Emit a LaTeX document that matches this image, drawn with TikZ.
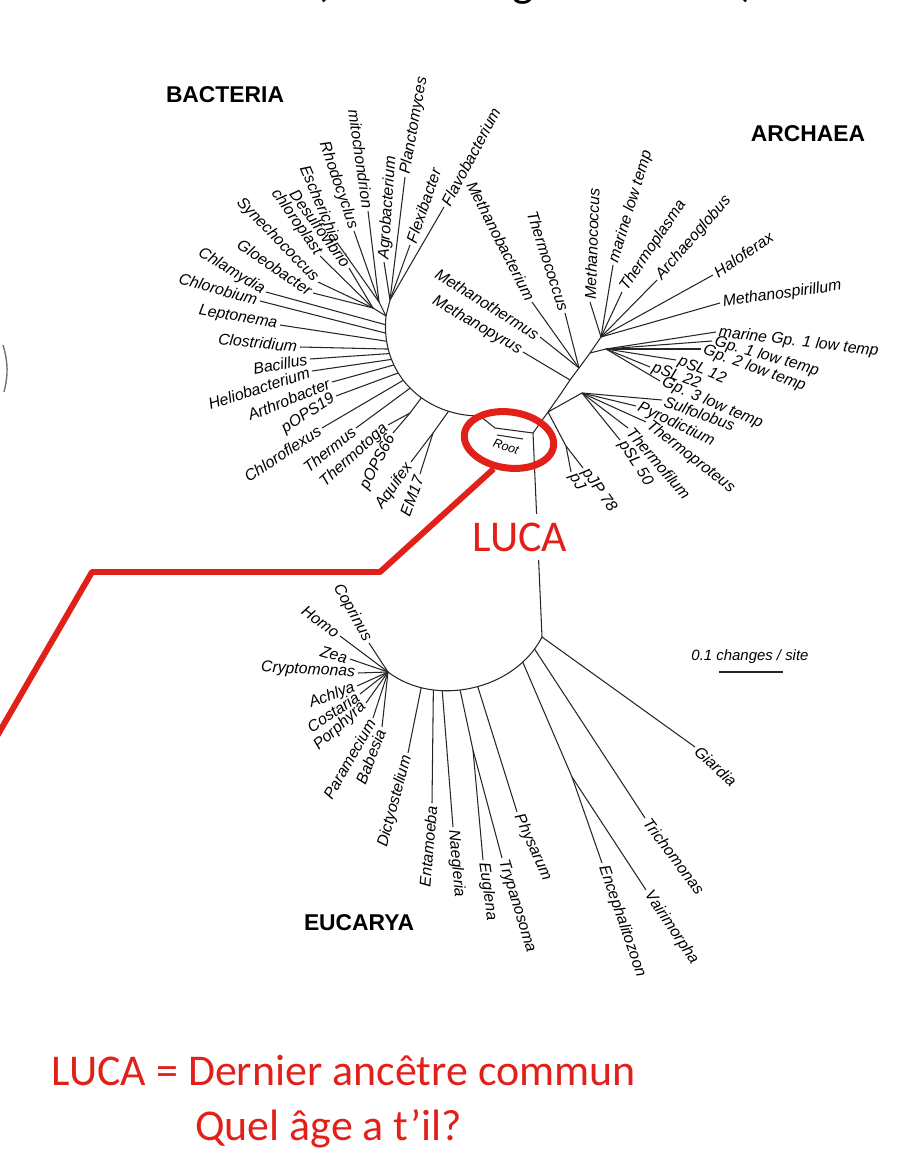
\documentclass[tikz,border=0pt]{standalone}
\usepackage{fontspec}
\setmainfont{Liberation Sans}
\newfontfamily\slidefont{Carlito}
\usetikzlibrary{shapes.geometric}
\definecolor{lucared}{RGB}{226,32,26}
\tikzset{
	br/.style={line width=0.6pt, black!85},
	taxon/.style={font=\fontsize{9}{10}\selectfont\itshape, inner sep=1.5pt},
	outR/.style={taxon, anchor=west, rotate=#1},
	outL/.style={taxon, anchor=east, rotate=#1},
	kingdom/.style={font=\fontsize{13}{15}\selectfont\bfseries},
	redtext/.style={font=\slidefont\fontsize{25}{29}\selectfont, text=lucared},
	redline/.style={draw=lucared, line width=3.4pt, line join=round},
	cuttitle/.style={font=\slidefont\fontsize{26}{30}\selectfont, anchor=base, inner sep=0pt}
}
\begin{document}
\begin{tikzpicture}[x=0.02cm, y=-0.02cm]
	\useasboundingbox (0,0) rectangle (898,1169);
	\clip (0,0) rectangle (898,1169);

	% cut title and left mark
	\node[cuttitle] (ttl1) at (321,-3) {(};
	\node[cuttitle] (ttl2) at (523,-3) {g};
	\node[cuttitle] (ttl3) at (748,-3) {)};
	\coordinate (lm1) at (3,345);
	\coordinate (lm2) at (4,392);
	\draw[black!55, line width=0.8pt] (lm1) to[bend left=15] (lm2);

	% kingdom names
	\node[kingdom] (bact) at (225,95) {BACTERIA};
	\node[kingdom] (arch) at (808,134) {ARCHAEA};
	\node[kingdom] (euca) at (359,923) {EUCARYA};

	% root
	\coordinate (R) at (533,433);
	\coordinate (rb1) at (495,428);
	\coordinate (rb2) at (497,435);
	\coordinate (rb3) at (523,439);
	\node[taxon, font=\fontsize{7}{8}\selectfont\itshape, rotate=-18] (rootlbl) at (506,447) {Root};

	% Bacteria
	\coordinate (bT) at (386,316);
	\coordinate (bH) at (480,416);
	\coordinate (bP) at (390,300);
	\coordinate (bM) at (379,302);
	\coordinate (bS) at (373,308);
	\draw[br] (bT) .. controls (380,375) and (425,416) .. (bH)
		coordinate[pos=0.05] (a05) coordinate[pos=0.10] (a10)
		coordinate[pos=0.15] (a15) coordinate[pos=0.20] (a20)
		coordinate[pos=0.23] (a23) coordinate[pos=0.27] (a27)
		coordinate[pos=0.31] (a31) coordinate[pos=0.37] (a37)
		coordinate[pos=0.43] (a43) coordinate[pos=0.50] (a50)
		coordinate[pos=0.60] (a60) coordinate[pos=0.80] (a80);
	\draw[br] (bH) -- (rb1) -- (R);
	\draw[br] (rb2) -- (rb3);
	\draw[br] (bT) -- (bP);
	\draw[br] (bT) -- (bM);
	\draw[br] (bT) -- (bS);
	\coordinate (bTt) at (410,413);
	\coordinate (bAq) at (433,433);
	\draw[br] (a60) -- (bTt);
	\draw[br] (a80) -- (bAq);

	\node[outR=62] (flavo) at (444,207) {Flavobacterium};
	\node[outR=71] (flexi) at (410,245) {Flexibacter};
	\node[outR=80] (planc) at (405,177) {Planctomyces};
	\node[outR=86] (agro) at (384,262) {Agrobacterium};
	\node[outL=-82] (mito) at (368,211) {mitochondrion};
	\node[outL=-71] (rhodo) at (354,231) {Rhodocyclus};
	\node[outL=-67] (esch) at (338,244) {Escherichia};
	\node[outL=-54] (desulf) at (349,268) {Desulfovibrio};
	\node[outL=-55] (chlpl) at (320,256) {chloroplast};
	\node[outL=-46] (synech) at (318,282) {Synechococcus};
	\node[outL=-34] (gloeo) at (313,293) {Gloeobacter};
	\node[outL=-31] (chlam) at (266,292) {Chlamydia};
	\node[outL=-16] (chlor) at (260,301) {Chlorobium};
	\node[outL=-10] (lepto) at (280,325) {Leptonema};
	\node[outL=-6] (clost) at (300,347) {Clostridium};
	\node[outL=10] (bacil) at (310,359) {Bacillus};
	\node[outL=18] (helio) at (312,371) {Heliobacterium};
	\node[outL=22] (arthr) at (332,382) {Arthrobacter};
	\node[outL=33] (pops19) at (336,396) {pOPS19};
	\node[outL=33] (chlfx) at (322,428) {Chloroflexus};
	\node[outL=39] (therm) at (356,428) {Thermus};
	\node[outL=42] (thtog) at (388,425) {Thermotoga};
	\node[outL=63] (pops66) at (393,433) {pOPS66};
	\node[outL=55] (aquif) at (411,462) {Aquifex};
	\node[outL=70] (em17) at (420,474) {EM17};

	\draw[br] (bP) -- (flavo.west);
	\draw[br] (bP) -- (flexi.west);
	\draw[br] (bP) -- (planc.west);
	\draw[br] (bP) -- (agro.west);
	\draw[br] (bM) -- (mito.east);
	\draw[br] (bM) -- (rhodo.east);
	\draw[br] (bM) -- (esch.east);
	\draw[br] (bS) -- (desulf.east);
	\draw[br] (bS) -- (chlpl.east);
	\draw[br] (bS) -- (synech.east);
	\draw[br] (bS) -- (gloeo.east);
	\draw[br] (a05) -- (chlam.east);
	\draw[br] (a10) -- (chlor.east);
	\draw[br] (a15) -- (lepto.east);
	\draw[br] (a20) -- (clost.east);
	\draw[br] (a23) -- (bacil.east);
	\draw[br] (a27) -- (helio.east);
	\draw[br] (a31) -- (arthr.east);
	\draw[br] (a37) -- (pops19.east);
	\draw[br] (a43) -- (chlfx.east);
	\draw[br] (a50) -- (therm.east);
	\draw[br] (bTt) -- (thtog.east);
	\draw[br] (bTt) -- (pops66.east);
	\draw[br] (bAq) -- (aquif.east);
	\draw[br] (bAq) -- (em17.east);

	% Archaea
	\coordinate (n1) at (548,412);
	\coordinate (n2) at (562,392);
	\coordinate (n3) at (570,380);
	\coordinate (n4) at (579,368);
	\coordinate (n5) at (590,353);
	\coordinate (n6) at (601,337);
	\coordinate (pH) at (566,446);
	\coordinate (cH) at (582,393);
	\coordinate (lH) at (606,349);
	\draw[br] (R) -- (n1) -- (n2) -- (n3) -- (n4) -- (n5) -- (n6);
	\draw[br] (n1) -- (pH);
	\draw[br] (n1) -- (cH);
	\draw[br] (n5) -- (lH);

	\node[outR=-55] (pjp78) at (583,468) {pJP 78};
	\node[outR=-60] (pj) at (571,472) {pJ};
	\node[outR=-20] (sulfo) at (662,400) {Sulfolobus};
	\node[outR=-25] (pyrod) at (636,406) {Pyrodictium};
	\node[outR=-38] (thprot) at (646,422) {Thermoproteus};
	\node[outR=-49] (thfil) at (628,428) {Thermofilum};
	\node[outR=-57] (psl50) at (620,440) {pSL 50};
	\node[outR=-23] (gp3) at (660,381) {Gp. 3 low temp};
	\node[outR=-20] (psl22) at (650,367) {pSL 22};
	\node[outR=-22] (psl12) at (676,360) {pSL 12};
	\node[outR=-20] (gp2) at (701,349) {Gp. 2 low temp};
	\node[outR=-16] (gp1) at (712,341) {Gp. 1 low temp};
	\node[outR=-7] (mgp1) at (716,332) {marine Gp. 1 low temp};
	\node[outR=8] (mspir) at (720,303) {Methanospirillum};
	\node[outR=34] (halo) at (713,275) {Haloferax};
	\node[outR=49] (archg) at (657,280) {Archaeoglobus};
	\node[outR=56] (thpla) at (622,292) {Thermoplasma};
	\node[outR=73] (mlow) at (613,265) {marine low temp};
	\node[outR=88] (mcocc) at (590,302) {Methanococcus};
	\node[outL=-72] (thcoc) at (565,313) {Thermococcus};
	\node[outL=-63] (mbact) at (532,302) {Methanobacterium};
	\node[outL=-32] (mtherm) at (540,337) {Methanothermus};
	\node[outL=-30] (mpyr) at (523,352) {Methanopyrus};

	\draw[br] (pH) -- (pjp78.west);
	\draw[br] (pH) -- (pj.west);
	\draw[br] (cH) -- (sulfo.west);
	\draw[br] (cH) -- (pyrod.west);
	\draw[br] (cH) -- (thprot.west);
	\draw[br] (cH) -- (thfil.west);
	\draw[br] (cH) -- (psl50.west);
	\draw[br] (lH) -- (gp3.west);
	\draw[br] (lH) -- (psl22.west);
	\draw[br] (lH) -- (psl12.west);
	\draw[br] (lH) -- (gp2.west);
	\draw[br] (lH) -- (gp1.west);
	\draw[br] (lH) -- (mgp1.west);
	\draw[br] (n6) -- (mspir.west);
	\draw[br] (n6) -- (halo.west);
	\draw[br] (n6) -- (archg.west);
	\draw[br] (n6) -- (thpla.west);
	\draw[br] (n6) -- (mlow.west);
	\draw[br] (n6) -- (mcocc.west);
	\draw[br] (n4) -- (thcoc.east);
	\draw[br] (n4) -- (mbact.east);
	\draw[br] (n4) -- (mtherm.east);
	\draw[br] (n3) -- (mpyr.east);

	% Eucarya
	\coordinate (eT) at (542,637);
	\coordinate (eL) at (388,672);
	\coordinate (mH) at (572,777);
	\coordinate (tH) at (473,750);
	\draw[br] (R) -- (eT);
	\draw[br] (eT) .. controls (515,690) and (435,708) .. (eL)
		coordinate[pos=0.08] (e08) coordinate[pos=0.18] (e18)
		coordinate[pos=0.47] (e47) coordinate[pos=0.57] (e57)
		coordinate[pos=0.67] (e67) coordinate[pos=0.72] (e72)
		coordinate[pos=0.79] (e79);
	\draw[br] (e18) -- (mH);
	\draw[br] (e57) -- (tH);

	\node[outR=-43] (giard) at (695,747) {Giardia};
	\node[outR=-53] (trich) at (645,818) {Trichomonas};
	\node[outR=-56] (vairi) at (646,890) {Vairimorpha};
	\node[outR=-71] (encep) at (602,863) {Encephalitozoon};
	\node[outR=-66] (physa) at (517,812) {Physarum};
	\node[outR=-73] (trypa) at (502,858) {Trypanosoma};
	\node[outR=-82] (eugle) at (483,860) {Euglena};
	\node[outR=-85] (naegl) at (453,827) {Naegleria};
	\node[outL=85] (entam) at (432,803) {Entamoeba};
	\node[outL=75] (dicty) at (408,753) {Dictyostelium};
	\node[outL=-61] (copri) at (369,643) {Coprinus};
	\node[outL=-36] (homo) at (340,636) {Homo};
	\node[outL=-15] (zea) at (350,659) {Zea};
	\node[outL=-3] (crypt) at (358,673) {Cryptomonas};
	\node[outL=21] (achly) at (357,686) {Achlya};
	\node[outL=34] (costa) at (360,694) {Costaria};
	\node[outL=42] (porph) at (366,703) {Porphyra};
	\node[outL=60] (param) at (373,718) {Paramecium};
	\node[outL=69] (babes) at (382,727) {Babesia};

	\draw[br] (eT) -- (giard.west);
	\draw[br] (e08) -- (trich.west);
	\draw[br] (mH) -- (vairi.west);
	\draw[br] (mH) -- (encep.west);
	\draw[br] (e47) -- (physa.west);
	\draw[br] (tH) -- (trypa.west);
	\draw[br] (tH) -- (eugle.west);
	\draw[br] (e67) -- (naegl.west);
	\draw[br] (e72) -- (entam.east);
	\draw[br] (e79) -- (dicty.east);
	\draw[br] (eL) -- (copri.east);
	\draw[br] (eL) -- (homo.east);
	\draw[br] (eL) -- (zea.east);
	\draw[br] (eL) -- (crypt.east);
	\draw[br] (eL) -- (achly.east);
	\draw[br] (eL) -- (costa.east);
	\draw[br] (eL) -- (porph.east);
	\draw[br] (eL) -- (param.east);
	\draw[br] (eL) -- (babes.east);

	% scale bar
	\node[taxon, font=\fontsize{8.5}{10}\selectfont\itshape] (scal) at (750,657) {0.1 changes / site};
	\coordinate (sb1) at (719,672);
	\coordinate (sb2) at (783,672);
	\draw[br] (sb1) -- (sb2);

	% LUCA
	\node[redtext, fill=white, inner sep=5pt] (luca) at (520,537) {LUCA};
	\node[ellipse, draw=lucared, line width=4pt, minimum width=18mm, minimum height=11.2mm, rotate=-8] (ring) at (509,440) {};
	\coordinate (k1) at (380,572);
	\coordinate (k2) at (92,572);
	\coordinate (k3) at (-40,800);
	\draw[redline] (ring.250) -- (k1) -- (k2) -- (k3);

	\node[redtext, anchor=base east] (ldef) at (642,1085) {LUCA = Dernier ancêtre commun};
	\node[redtext, anchor=base east] (lage) at (468,1140) {Quel âge a t’il?};
\end{tikzpicture}
\end{document}
